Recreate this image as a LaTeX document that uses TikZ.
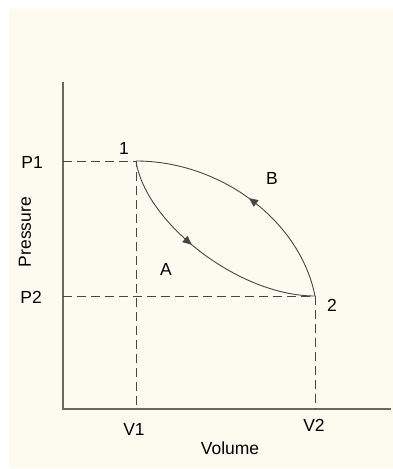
\documentclass[tikz,border=0pt]{standalone}
\usepackage{fontspec}
\setmainfont{Liberation Sans}
\usetikzlibrary{arrows.meta, decorations.markings}
\usepackage{xcolor}
\definecolor{paper}{RGB}{253,251,239}
\definecolor{axisgray}{RGB}{105,105,95}
\definecolor{curvegray}{RGB}{70,70,70}

\begin{document}
\begin{tikzpicture}[x=1pt, y=-1pt,
  lbl/.style={font=\fontsize{17.5}{19}\selectfont, inner sep=0pt, text=black},
  guide/.style={curvegray, dash pattern=on 9pt off 5pt, line width=0.9pt},
  process/.style={curvegray, line width=0.9pt},
  midarrow/.style={postaction={decorate}, decoration={markings,
      mark=at position #1 with {\arrow{Triangle[length=9pt,width=8pt]}}}}]
  \useasboundingbox (0,0) rectangle (393,469);
  \fill[paper] (9,9) rectangle (393,468);
  % axes
  \coordinate (O) at (63,409);
  \coordinate (ytop) at (63,82);
  \coordinate (xend) at (391,409);
  \draw[axisgray, line width=1.4pt] (ytop) -- (O) -- (xend);
  % states
  \coordinate (s1) at (136,161);
  \coordinate (s2) at (315,296);
  \coordinate (p1) at (O |- s1);
  \coordinate (p2) at (O |- s2);
  \coordinate (v1) at (s1 |- O);
  \coordinate (v2) at (s2 |- O);
  \draw[guide] (p1) -- (s1) -- (v1);
  \draw[guide] (p2) -- (s2) -- (v2);
  % path A (1 -> 2) and path B (2 -> 1)
  \draw[process, midarrow=0.43] (s1) .. controls (145,222) and (238,296) .. (s2);
  \draw[process, midarrow=0.5] (s2) .. controls (300,220) and (220,161) .. (s1);
  % labels
  \node[lbl] (n1) at (124,148) {1};
  \node[lbl] (n2) at (332,305) {2};
  \node[lbl] (lA) at (166,269) {A};
  \node[lbl] (lB) at (272,178) {B};
  \node[lbl, anchor=east] (lp1) at (43,162) {P1};
  \node[lbl, anchor=east] (lp2) at (42,297) {P2};
  \node[lbl] (lv1) at (134,429) {V1};
  \node[lbl] (lv2) at (314,425) {V2};
  \node[lbl] (xlab) at (230,448) {Volume};
  \node[lbl, rotate=90] (ylab) at (25,232) {Pressure};
\end{tikzpicture}
\end{document}
